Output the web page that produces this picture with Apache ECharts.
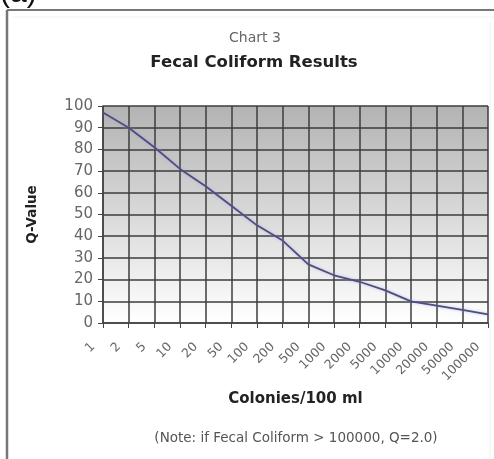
<!DOCTYPE html>
<html>
<head>
<meta charset="utf-8">
<script src="https://cdn.jsdelivr.net/npm/echarts@6/dist/echarts.min.js"></script>
<style>
  html, body { margin: 0; padding: 0; background: #fff; }
  #chart { width: 494px; height: 459px; }
</style>
</head>
<body>
<div id="chart"></div>
<script>
// Fecal coliform density (colonies / 100 ml) and the matching Q-value
const colonies = ['1', '2', '5', '10', '20', '50', '100', '200', '500', '1000',
  '2000', '5000', '10000', '20000', '50000', '100000'];
const qValues = [97, 90, 81, 71, 63, 54, 45, 38, 27, 22, 19, 15, 10, 8, 6, 4];
const yTicks = { min: 0, max: 100, step: 10 };

const font = 'DejaVu Sans, Verdana, sans-serif';
const chart = echarts.init(document.getElementById('chart'), null, { renderer: 'canvas' });

chart.setOption({
  animation: false,
  backgroundColor: '#ffffff',
  textStyle: { fontFamily: font },
  graphic: [
    // panel frame
    { type: 'line', shape: { x1: 7, y1: 10, x2: 494, y2: 10 },
      style: { stroke: '#777', lineWidth: 2 } },
    { type: 'line', shape: { x1: 7, y1: 10, x2: 7, y2: 459 },
      style: { stroke: '#777', lineWidth: 2.5 } },
    { type: 'line', shape: { x1: 12, y1: 17, x2: 494, y2: 17 },
      style: { stroke: '#f2f2f2', lineWidth: 1 } },
    { type: 'line', shape: { x1: 490, y1: 22, x2: 490, y2: 459 },
      style: { stroke: '#f0f0f0', lineWidth: 1 } },
    // panel label
    { type: 'text', left: 0, top: -21,
      style: { text: '(a)', font: '30px Liberation Sans, Arial, sans-serif', fill: '#111' } },
    // footnote
    { type: 'text', x: 296, y: 438, z: 10,
      style: { text: '(Note: if Fecal Coliform > 100000, Q=2.0)', align: 'center', verticalAlign: 'middle',
        font: '13.5px ' + font, fill: '#555' } }
  ],
  title: [
    { text: 'Chart 3', left: 250, top: 26, textAlign: 'center',
      textStyle: { fontSize: 14, fontWeight: 'normal', color: '#666', fontFamily: font } },
    { text: 'Fecal Coliform Results', left: 249, top: 49, textAlign: 'center',
      textStyle: { fontSize: 16.5, fontWeight: 'bold', color: '#222', fontFamily: font } }
  ],
  grid: {
    left: 103, right: 6, top: 106, height: 217,
    show: true,
    borderWidth: 0,
    backgroundColor: new echarts.graphic.LinearGradient(0, 0, 0, 1, [
      { offset: 0, color: '#b3b3b3' },
      { offset: 1, color: '#ffffff' }
    ])
  },
  xAxis: {
    type: 'category',
    data: colonies,
    boundaryGap: false,
    name: 'Colonies/100 ml',
    nameLocation: 'middle',
    nameGap: 69,
    nameTextStyle: { fontSize: 15, fontWeight: 'bold', color: '#222', fontFamily: font },
    axisLine: { show: true, lineStyle: { color: '#444', width: 1.5 } },
    axisTick: { show: true, alignWithLabel: true, length: 5, lineStyle: { color: '#444' } },
    axisLabel: { rotate: 45, fontSize: 12.5, color: '#666', margin: 12, interval: 0,
      padding: [0, 14, 0, 0], fontFamily: font },
    splitLine: { show: true, lineStyle: { color: '#3c3c3c', width: 1.5 } }
  },
  yAxis: {
    type: 'value',
    min: yTicks.min, max: yTicks.max, interval: yTicks.step,
    name: 'Q-Value',
    nameLocation: 'middle',
    nameGap: 64,
    nameRotate: 90,
    nameTextStyle: { fontSize: 13.5, fontWeight: 'bold', color: '#222', fontFamily: font },
    axisLine: { show: true, lineStyle: { color: '#444', width: 1.5 } },
    axisTick: { show: true, length: 5, lineStyle: { color: '#444' } },
    axisLabel: { fontSize: 15, color: '#666', margin: 10, fontFamily: font },
    splitLine: { show: true, lineStyle: { color: '#3c3c3c', width: 1.5 } }
  },
  series: [{
    type: 'line',
    data: qValues,
    symbol: 'none',
    smooth: false,
    lineStyle: { color: '#4d4d80', width: 1.8, shadowColor: 'rgba(150,150,220,0.6)', shadowBlur: 3 },
    z: 5
  }]
});
</script>
</body>
</html>
